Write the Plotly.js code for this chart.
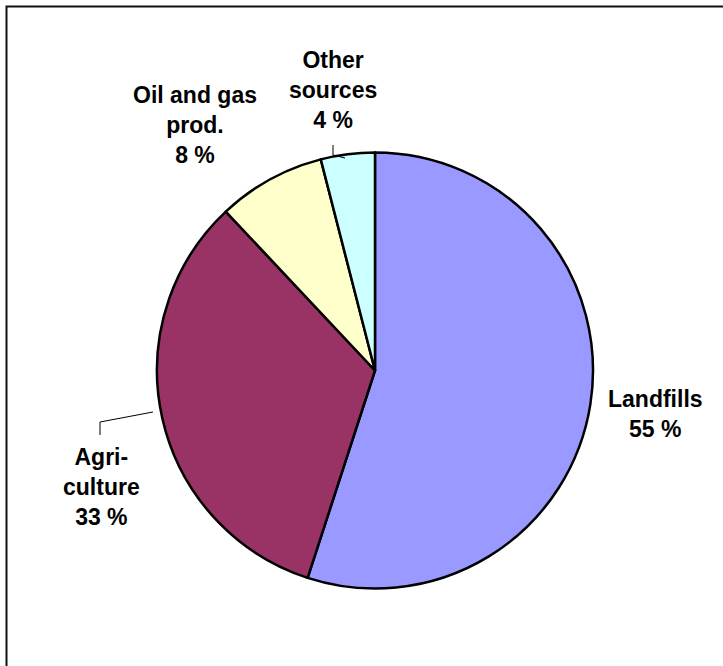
<!DOCTYPE html>
<html>
<head>
<meta charset="utf-8">
<script src="https://cdn.plot.ly/plotly-3.0.1.min.js"></script>
<style>html,body{margin:0;padding:0;background:#fff;}#chart{width:723px;height:666px;}</style>
</head>
<body>
<div id="chart"></div>
<script>
// Data
const categories = ["Landfills", "Agriculture", "Oil and gas prod.", "Other sources"];
const labelTexts = ["Landfills", "Agri-<br>culture", "Oil and gas<br>prod.", "Other<br>sources"];
const shares = [55, 33, 8, 4];
const colors = ["#9999FF", "#993366", "#FFFFCC", "#CCFFFF"];

const W = 723, H = 666;
const px = x => x / W;
const py = y => 1 - y / H;

// label centres (pixels)
const labelPos = [[655, 414], [101, 487], [195, 125], [333, 90]];

const annotations = categories.map((c, i) => ({
  xref: 'paper', yref: 'paper',
  x: px(labelPos[i][0]), y: py(labelPos[i][1]),
  xanchor: 'center', yanchor: 'middle',
  text: labelTexts[i] + '<br>' + shares[i] + ' %',
  showarrow: false, align: 'center',
  font: {family: 'Liberation Sans, Arial, sans-serif', size: 23, color: '#000', weight: 'bold'}
}));

const cx = 375, cy = 370.5, r = 218;

const shapes = [
  // outer frame (left and top edges visible)
  {type: 'path', xref: 'paper', yref: 'paper',
   path: `M ${px(6.5)} ${-0.01} L ${px(6.5)} ${py(6.5)} L 1.01 ${py(6.5)}`,
   line: {color: '#111', width: 2}},
  // leader line: Agriculture
  {type: 'path', xref: 'paper', yref: 'paper',
   path: `M ${px(153)} ${py(412)} L ${px(100)} ${py(422)} L ${px(100)} ${py(435)}`,
   line: {color: '#000', width: 1}},
  // leader line: Other sources
  {type: 'path', xref: 'paper', yref: 'paper',
   path: `M ${px(333)} ${py(145)} L ${px(333)} ${py(155)} L ${px(345)} ${py(158)}`,
   line: {color: '#000', width: 1}}
];

const trace = {
  type: 'pie',
  labels: categories,
  values: shares,
  sort: false,
  direction: 'clockwise',
  rotation: 0,
  textinfo: 'none',
  hoverinfo: 'label+percent',
  marker: {colors: colors, line: {color: '#000', width: 2.5}},
  domain: {x: [px(cx - r), px(cx + r)], y: [py(cy + r), py(cy - r)]},
  showlegend: false
};

const layout = {
  width: W, height: H,
  margin: {l: 0, r: 0, t: 0, b: 0},
  paper_bgcolor: '#fff',
  showlegend: false,
  annotations: annotations,
  shapes: shapes
};

Plotly.newPlot('chart', [trace], layout, {displayModeBar: false, staticPlot: true});
</script>
</body>
</html>
